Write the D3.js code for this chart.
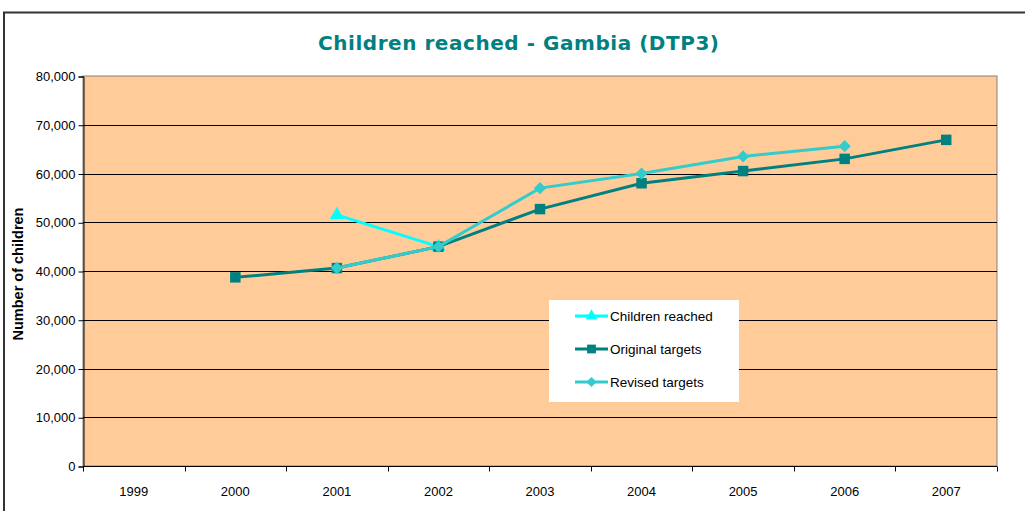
<!DOCTYPE html>
<html>
<head>
<meta charset="utf-8">
<script src="https://cdn.jsdelivr.net/npm/d3@7"></script>
<style>
  body { margin: 0; background: #fff; }
  svg { display: block; font-family: "Liberation Sans", Arial, sans-serif; }
</style>
</head>
<body>
<svg id="chart" width="1025" height="511"></svg>
<script>
// data
var years = ["1999", "2000", "2001", "2002", "2003", "2004", "2005", "2006", "2007"];
var childrenReached = [null, null, 51500, 45000, null, null, null, null, null];
var originalTargets = [null, 38700, 40600, 45000, 52700, 58000, 60500, 63000, 66900];
var revisedTargets  = [null, null, 40600, 45000, 57000, 60000, 63500, 65600, null];
var yTicks = [0, 10000, 20000, 30000, 40000, 50000, 60000, 70000, 80000];

var svg = d3.select("#chart");
var plot = {left: 83, right: 997, top: 76, bottom: 466};

var x = d3.scaleBand().domain(years).range([plot.left, plot.right]);
var y = d3.scaleLinear().domain([0, 80000]).range([plot.bottom, plot.top]);

// outer frame
svg.append("path")
  .attr("d", "M4,520 L4,12.5 L1030,12.5")
  .attr("fill", "none")
  .attr("stroke", "#333")
  .attr("stroke-width", 2);

// title
svg.append("text")
  .attr("x", 318).attr("y", 50)
  .attr("textLength", 401).attr("lengthAdjust", "spacing")
  .style("font-family", "'DejaVu Sans', Verdana, sans-serif")
  .style("font-size", "20px").style("font-weight", "bold")
  .style("fill", "#008080")
  .text("Children reached - Gambia (DTP3)");

// plot background
svg.append("rect")
  .attr("x", plot.left).attr("y", plot.top)
  .attr("width", plot.right - plot.left).attr("height", plot.bottom - plot.top)
  .attr("fill", "#FFCC99")
  .attr("stroke", "#808080").attr("stroke-width", 1);

// gridlines
svg.append("g").selectAll("line")
  .data(yTicks.filter(function(d) { return d > 0 && d < 80000; }))
  .enter().append("line")
  .attr("x1", plot.left).attr("x2", plot.right)
  .attr("y1", function(d) { return Math.round(y(d)) + 0.5; })
  .attr("y2", function(d) { return Math.round(y(d)) + 0.5; })
  .attr("stroke", "#000").attr("stroke-width", 1);

// y axis
var yAxis = svg.append("g")
  .attr("transform", "translate(" + (plot.left + 0.5) + ",0.5)")
  .call(d3.axisLeft(y).tickValues(yTicks).tickSize(5).tickPadding(3)
    .tickFormat(d3.format(",")));
yAxis.select(".domain").attr("stroke", "#000");
yAxis.selectAll("text").style("font-size", "13px").style("fill", "#000")
  .style("font-family", "'Liberation Sans', Arial, sans-serif");

// x axis: ticks at category boundaries
var xg = svg.append("g").attr("transform", "translate(0," + (plot.bottom + 0.5) + ")");
xg.append("line").attr("x1", plot.left).attr("x2", plot.right).attr("stroke", "#000");
var bounds = years.map(function(d) { return x(d); }).concat([plot.right]);
xg.selectAll("line.tick").data(bounds).enter().append("line")
  .attr("class", "tick")
  .attr("x1", function(d) { return Math.round(d) + 0.5; })
  .attr("x2", function(d) { return Math.round(d) + 0.5; })
  .attr("y1", 0).attr("y2", 5).attr("stroke", "#000");
xg.selectAll("text").data(years).enter().append("text")
  .attr("x", function(d) { return x(d) + x.bandwidth() / 2; })
  .attr("y", 29)
  .attr("text-anchor", "middle")
  .style("font-size", "13px")
  .text(function(d) { return d; });

// y axis title
svg.append("text")
  .attr("transform", "translate(23,274) rotate(-90)")
  .attr("text-anchor", "middle")
  .style("font-size", "14.5px").style("font-weight", "bold")
  .text("Number of children");

function cx(i) { return x(years[i]) + x.bandwidth() / 2; }

// rhombus with equal diagonals, like the spreadsheet marker
var rhombus = {
  draw: function(ctx, size) {
    var r = Math.sqrt(size / 2);
    ctx.moveTo(0, -r); ctx.lineTo(r, 0); ctx.lineTo(0, r); ctx.lineTo(-r, 0); ctx.closePath();
  }
};

var series = [
  {name: "Children reached", values: childrenReached, color: "#00FFFF", symbol: d3.symbolTriangle, size: 85},
  {name: "Original targets", values: originalTargets, color: "#008080", symbol: d3.symbolSquare, size: 110},
  {name: "Revised targets", values: revisedTargets, color: "#33CCCC", symbol: rhombus, size: 75}
];

var line = d3.line()
  .defined(function(d) { return d != null; })
  .x(function(d, i) { return cx(i); })
  .y(function(d) { return y(d); });

series.forEach(function(s) {
  var g = svg.append("g");
  g.append("path")
    .attr("d", line(s.values))
    .attr("fill", "none")
    .attr("stroke", s.color)
    .attr("stroke-width", 3);
  g.selectAll("path.pt")
    .data(s.values.map(function(v, i) { return {v: v, i: i}; }).filter(function(d) { return d.v != null; }))
    .enter().append("path")
    .attr("class", "pt")
    .attr("d", d3.symbol().type(s.symbol).size(s.size))
    .attr("transform", function(d) { return "translate(" + cx(d.i) + "," + y(d.v) + ")"; })
    .attr("fill", s.color);
});

// legend
var lg = svg.append("g").attr("transform", "translate(549,300)");
lg.append("rect").attr("width", 190).attr("height", 102).attr("fill", "#fff");
series.forEach(function(s, i) {
  var yy = 16 + i * 33;
  lg.append("line").attr("x1", 26).attr("x2", 59).attr("y1", yy).attr("y2", yy)
    .attr("stroke", s.color).attr("stroke-width", 3);
  lg.append("path")
    .attr("d", d3.symbol().type(s.symbol).size(s.size * 0.7))
    .attr("transform", "translate(42.5," + yy + ")")
    .attr("fill", s.color);
  lg.append("text").attr("x", 61).attr("y", yy + 5)
    .style("font-size", "13.5px")
    .text(s.name);
});
</script>
</body>
</html>
